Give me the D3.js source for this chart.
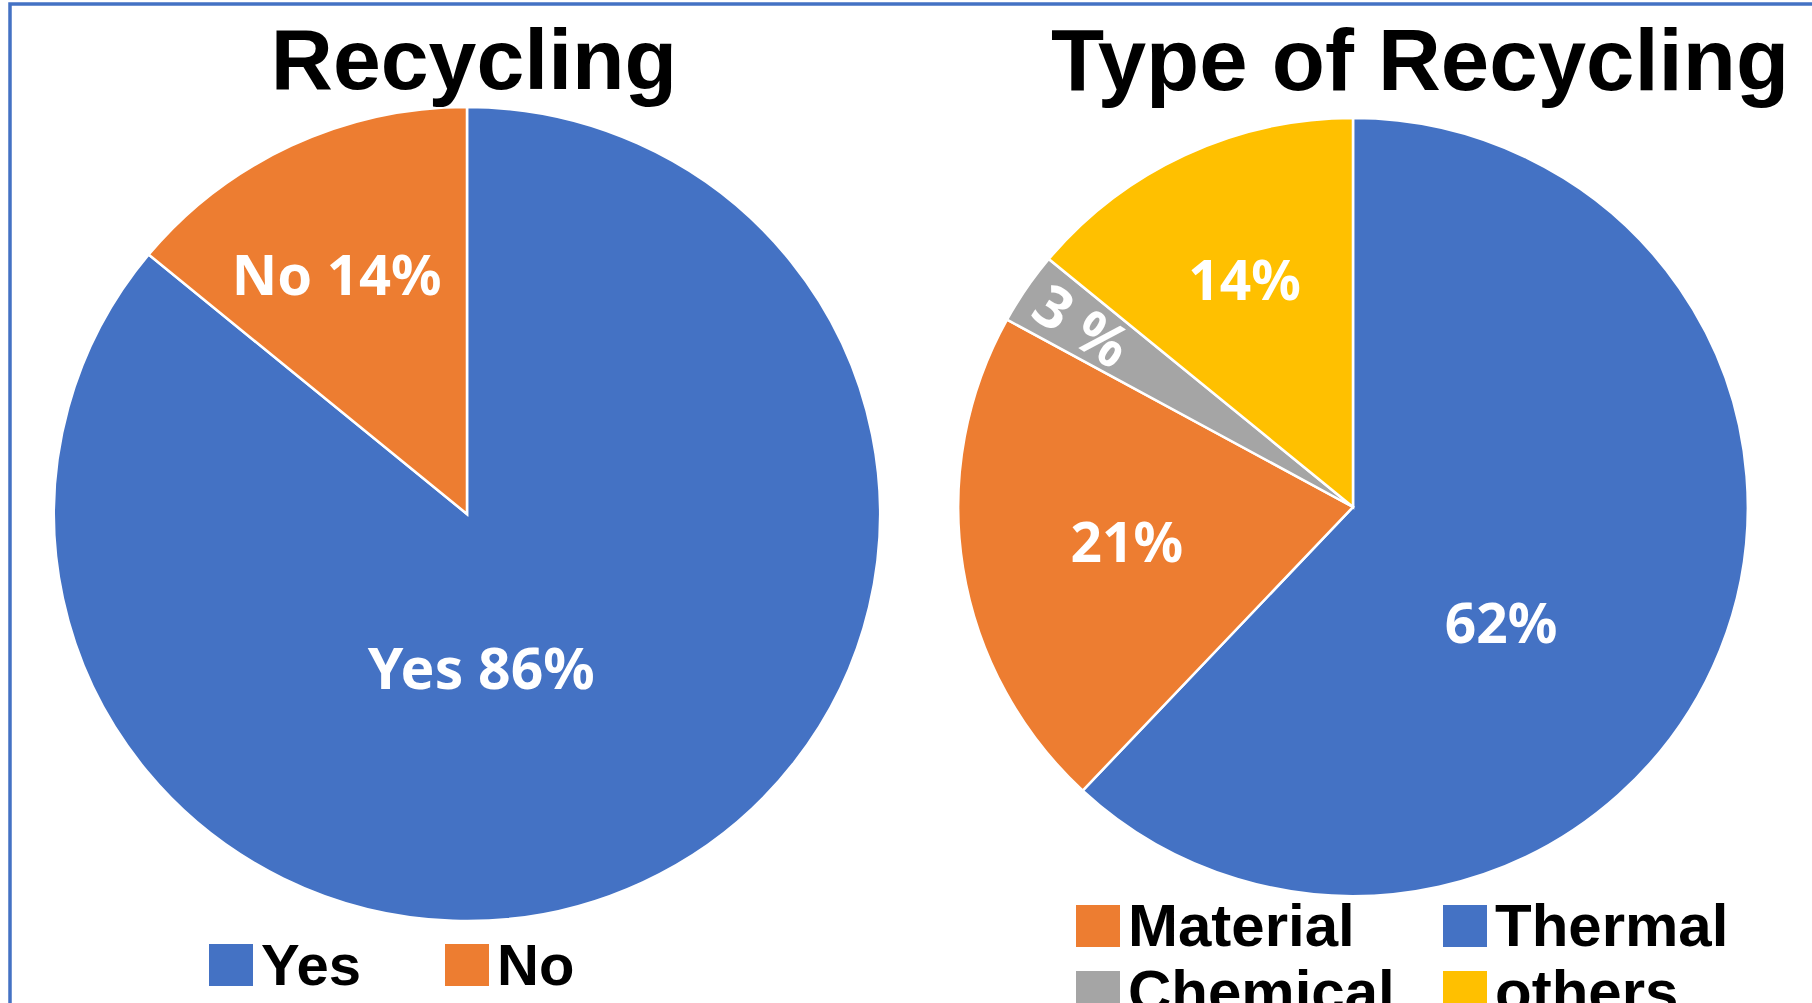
<!DOCTYPE html>
<html>
<head>
<meta charset="utf-8">
<script src="https://cdn.jsdelivr.net/npm/d3@7"></script>
<style>
  body { margin: 0; background: #fff; }
  svg { display: block; }
</style>
</head>
<body>
<div id="chart"></div>
<script>
// data
const recycleCats = ["Yes", "No"];
const recycleVals = [86, 14];
const typeCats = ["Thermal", "Material", "Chemical", "others"];
const typeVals = [62, 21, 3, 14];
const typeLegendOrder = ["Material", "Thermal", "Chemical", "others"];

const width = 1812, height = 1003;

const color = d3.scaleOrdinal()
	.domain(["Yes", "No", "Thermal", "Material", "Chemical", "others"])
	.range(["#4472C4", "#ED7D31", "#4472C4", "#ED7D31", "#A5A5A5", "#FFC000"]);

const svg = d3.select("#chart").append("svg")
	.attr("width", width)
	.attr("height", height);

// frame of the original chart area (only top and left edges are visible)
svg.append("path")
	.attr("d", `M10,${height} V4 H${width}`)
	.attr("fill", "none")
	.attr("stroke", "#4472C4")
	.attr("stroke-width", 3.5);

const pie = d3.pie().sort(null).value(d => d.value);

// the source picture is a little stretched sideways, so the pies are too
const stretch = 1.015;

// draws one pie; labels sit on the slice at a radius factor, with an optional angle shift
function drawPie(cats, vals, cx, cy, r, labels) {
	const data = cats.map((c, i) => ({name: c, value: vals[i]}));
	const arcs = pie(data);
	const arc = d3.arc().innerRadius(0).outerRadius(r);
	const g = svg.append("g").attr("transform", `translate(${cx},${cy})`);

	g.append("g")
		.attr("transform", `scale(${stretch},1)`)
		.selectAll("path")
		.data(arcs)
		.join("path")
		.attr("d", arc)
		.attr("fill", d => color(d.data.name))
		.attr("stroke", "#fff")
		.attr("stroke-width", 2.5);

	g.selectAll("text.lbl")
		.data(arcs)
		.join("text")
		.attr("class", "lbl")
		.attr("transform", d => {
			const l = labels[d.data.name];
			const a = (d.startAngle + d.endAngle) / 2 + (l.shift || 0) * Math.PI / 180;
			const x = Math.sin(a) * r * l.k * stretch, y = -Math.cos(a) * r * l.k;
			return `translate(${x},${y}) rotate(${l.rot || 0})`;
		})
		.attr("text-anchor", "middle")
		.attr("dy", "0.36em")
		.attr("fill", "#fff")
		.attr("font-family", "'Noto Sans', sans-serif")
		.attr("font-weight", "bold")
		.attr("font-size", d => labels[d.data.name].size || 55)
		.text(d => labels[d.data.name].text);
}

drawPie(recycleCats, recycleVals, 467, 514, 407, {
	Yes: {k: 0.38, shift: 20, size: 57, text: "Yes 86%"},
	No: {k: 0.668, shift: -3, size: 56, text: "No 14%"}
});

drawPie(typeCats, typeVals, 1353, 507, 389, {
	Thermal: {k: 0.48, shift: 17, text: "62%"},
	Material: {k: 0.58, text: "21%"},
	Chemical: {k: 0.83, rot: 33, size: 58, text: "3 %"},
	others: {k: 0.645, text: "14%"}
});

// titles
svg.append("text")
	.attr("x", 474).attr("y", 89)
	.attr("text-anchor", "middle")
	.attr("font-family", "'Liberation Sans', Arial, sans-serif")
	.attr("font-weight", "bold")
	.attr("font-size", 86)
	.text("Recycling");

svg.append("text")
	.attr("x", 1420).attr("y", 90)
	.attr("text-anchor", "middle")
	.attr("font-family", "'Liberation Sans', Arial, sans-serif")
	.attr("font-weight", "bold")
	.attr("font-size", 87)
	.text("Type of Recycling");

// legends
function legendItem(name, x, y, size) {
	const g = svg.append("g").attr("transform", `translate(${x},${y})`);
	g.append("rect")
		.attr("width", 44).attr("height", 42)
		.attr("fill", color(name));
	g.append("text")
		.attr("x", 52).attr("y", 41)
		.attr("font-family", "'Liberation Sans', Arial, sans-serif")
		.attr("font-weight", "bold")
		.attr("font-size", size)
		.attr("fill", "#000")
		.text(name);
}

const leftLegendX = d3.scalePoint().domain(recycleCats).range([209, 445]);
recycleCats.forEach(c => legendItem(c, leftLegendX(c), 944, 58));

const colX = d3.scalePoint().domain([0, 1]).range([1076, 1443]);
const rowY = d3.scalePoint().domain([0, 1]).range([905, 971]);
typeLegendOrder.forEach((c, i) => legendItem(c, colX(i % 2), rowY(Math.floor(i / 2)), 60));
</script>
</body>
</html>
